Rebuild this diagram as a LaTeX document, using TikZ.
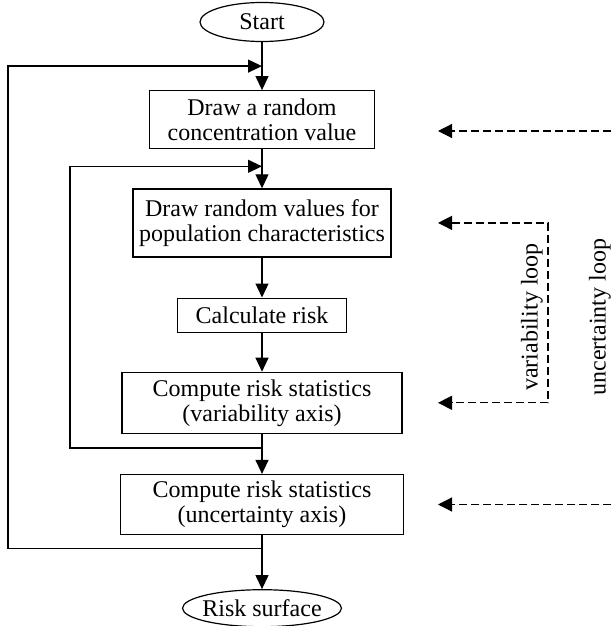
\documentclass[tikz,border=0pt]{standalone}
\usepackage{fontspec}
\setmainfont{Liberation Serif}
\usepackage{tikz}
\usetikzlibrary{positioning, shapes.geometric, arrows.meta}
\tikzset{
  proc/.style = {
    draw,
    line width=0.6pt,
    align=center,
    inner sep=1pt,
    font=\fontsize{12}{12.5}\selectfont
  },
  term/.style = {
    proc,
    ellipse,
    inner sep=0pt,
    text height=8pt,
    text depth=0pt
  },
  arrow/.style = {
    -{Triangle[length=7pt, width=6.5pt]},
    line width=0.6pt
  },
  dasharrow/.style = {
    line width=0.6pt,
    dash pattern=on 4pt off 2pt
  },
  looplabel/.style = {
    font=\fontsize{12}{12.5}\selectfont,
    rotate=90,
    inner sep=0pt
  },
}

\begin{document}
\begin{tikzpicture}[x=0.5pt, y=-0.5pt, node distance=20pt]
    \useasboundingbox (0,0) rectangle (611,626);
    % main chain
    \node[term, minimum width=62pt, minimum height=19.5pt] (start) at (262,22) {Start};
    \node[proc, below=24pt of start, minimum width=112.5pt, minimum height=29pt] (conc) {Draw a random\\concentration value};
    \node[proc, below=19.5pt of conc, minimum width=129pt, minimum height=34pt] (pop) {Draw random values for\\population characteristics};
    \node[proc, below=of pop, minimum width=84.5pt, minimum height=17pt] (risk) {Calculate risk};
    \node[proc, below=19.5pt of risk, minimum width=140pt, minimum height=30.5pt] (varstat) {Compute risk statistics\\(variability axis)};
    \node[proc, below=of varstat, minimum width=141.5pt, minimum height=30pt] (uncstat) {Compute risk statistics\\(uncertainty axis)};
    \node[term, below=27pt of uncstat, minimum width=79.5pt, minimum height=18.5pt, inner xsep=-4pt] (surf) {Risk surface};
    \draw[arrow] (start) -- (conc);
    \draw[arrow] (conc) -- (pop);
    \draw[arrow] (pop) -- (risk);
    \draw[arrow] (risk) -- (varstat);
    \draw[arrow] (varstat) -- (uncstat);
    \draw[arrow] (uncstat) -- (surf);

    % feedback loops
    \coordinate[below=12pt of start] (ujoin);
    \coordinate[below=8.5pt of conc] (vjoin);
    \coordinate[below=7pt of varstat] (vsplit);
    \coordinate[below=6.5pt of uncstat] (usplit);
    \coordinate (uleft) at (8,0);
    \coordinate (vleft) at (70,0);
    \draw[arrow] (usplit) -- (usplit -| uleft) -- (ujoin -| uleft) -- (ujoin);
    \draw[arrow] (vsplit) -- (vsplit -| vleft) -- (vjoin -| vleft) -- (vjoin);

    % dashed loop markers
    \coordinate (dtip) at (438,0);
    \coordinate (vright) at (548,0);
    \coordinate (edge) at (611,0);
    \draw[dasharrow, -{Triangle[length=7pt, width=7pt]}] (edge |- 0,131) -- (dtip |- 0,131);
    \draw[dasharrow, -{Triangle[length=7pt, width=7pt]}] (edge |- uncstat) -- (dtip |- uncstat);
    \draw[dasharrow, {Triangle[length=7pt, width=7pt]}-{Triangle[length=7pt, width=7pt]}]
      (dtip |- pop) -- (vright |- pop) -- (vright |- varstat) -- (dtip |- varstat);
    \node[looplabel] (varlab) at (532,317) {variability loop};
    \node[looplabel] (unclab) at (600,317) {uncertainty loop};
\end{tikzpicture}
\end{document}
